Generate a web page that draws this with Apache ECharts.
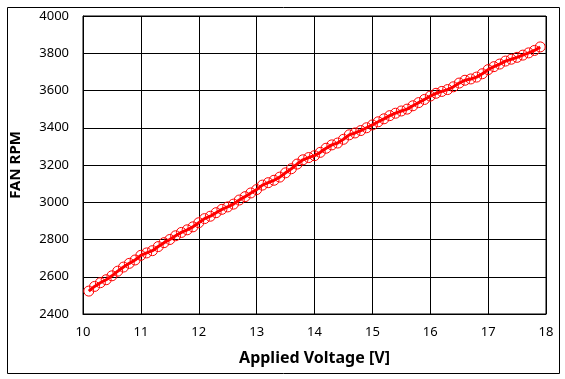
<!DOCTYPE html>
<html>
<head>
<meta charset="utf-8">
<script src="https://cdn.jsdelivr.net/npm/echarts@6/dist/echarts.min.js"></script>
<style>html,body{margin:0;padding:0;background:#fff}#c{width:565px;height:379px}</style>
</head>
<body>
<div id="c"></div>
<script>
const voltage = [10.1,10.2,10.3,10.4,10.5,10.6,10.7,10.8,10.9,11.0,
11.1,11.2,11.3,11.4,11.5,11.6,11.7,11.8,11.9,12.0,
12.1,12.2,12.3,12.4,12.5,12.6,12.7,12.8,12.9,13.0,
13.1,13.2,13.3,13.4,13.5,13.6,13.7,13.8,13.9,14.0,
14.1,14.2,14.3,14.4,14.5,14.6,14.7,14.8,14.9,15.0,
15.1,15.2,15.3,15.4,15.5,15.6,15.7,15.8,15.9,16.0,
16.1,16.2,16.3,16.4,16.5,16.6,16.7,16.8,16.9,17.0,
17.1,17.2,17.3,17.4,17.5,17.6,17.7,17.8,17.9];
const rpm = [2523,2548,2568,2584,2605,2630,2652,2672,2690,2715,
2728,2740,2762,2783,2800,2820,2838,2852,2868,2890,
2912,2925,2944,2962,2975,2990,3012,3030,3050,3068,
3092,3105,3118,3135,3158,3180,3205,3228,3240,3250,
3268,3290,3308,3318,3338,3362,3372,3385,3400,3415,
3432,3448,3465,3478,3490,3500,3518,3535,3552,3570,
3585,3595,3605,3620,3640,3655,3662,3672,3690,3712,
3728,3742,3758,3768,3778,3790,3802,3815,3834];
const xTitle = 'Applied Voltage [V]';
const yTitle = 'FAN RPM';

const chart = echarts.init(document.getElementById('c'), null, {renderer:'canvas'});
const font = '"Noto Sans", "DejaVu Sans", sans-serif';
chart.setOption({
  animation: false,
  backgroundColor: '#fff',
  graphic: [{
    type: 'rect', left: 5, top: 5, z: -1,
    shape: {x: 0, y: 0, width: 552, height: 366},
    style: {fill: 'none', stroke: '#000', lineWidth: 1}
  }],
  grid: {left: 82, top: 16, right: 19, bottom: 65, show: true, borderColor: '#000', borderWidth: 1, containLabel: false},
  xAxis: {
    type: 'value', min: 10, max: 18, interval: 1,
    name: xTitle, nameLocation: 'middle', nameGap: 36,
    nameTextStyle: {fontFamily: font, fontSize: 16, fontWeight: 'bold', color: '#000'},
    axisLine: {show: true, lineStyle: {color: '#000', width: 1}},
    axisTick: {show: false},
    axisLabel: {fontFamily: font, fontSize: 13, color: '#000', margin: 12, formatter: v => String(v)},
    splitLine: {show: true, lineStyle: {color: '#000', width: 1}}
  },
  yAxis: {
    type: 'value', min: 2400, max: 4000, interval: 200,
    name: yTitle, nameLocation: 'middle', nameGap: 60, nameRotate: 90,
    nameTextStyle: {fontFamily: font, fontSize: 15, fontWeight: 'bold', color: '#000'},
    axisLine: {show: true, lineStyle: {color: '#000', width: 1}},
    axisTick: {show: false},
    axisLabel: {fontFamily: font, fontSize: 13, color: '#000', margin: 14, formatter: v => String(v)},
    splitLine: {show: true, lineStyle: {color: '#000', width: 1}}
  },
  series: [{
    type: 'line',
    data: voltage.map((v, i) => [v, rpm[i]]),
    symbol: 'circle', symbolSize: 10, showAllSymbol: true,
    lineStyle: {color: '#ff0000', width: 3},
    itemStyle: {color: 'rgba(255,255,255,0)', borderColor: '#ff0000', borderWidth: 1},
    emphasis: {disabled: true}
  }]
});
</script>
</body>
</html>
